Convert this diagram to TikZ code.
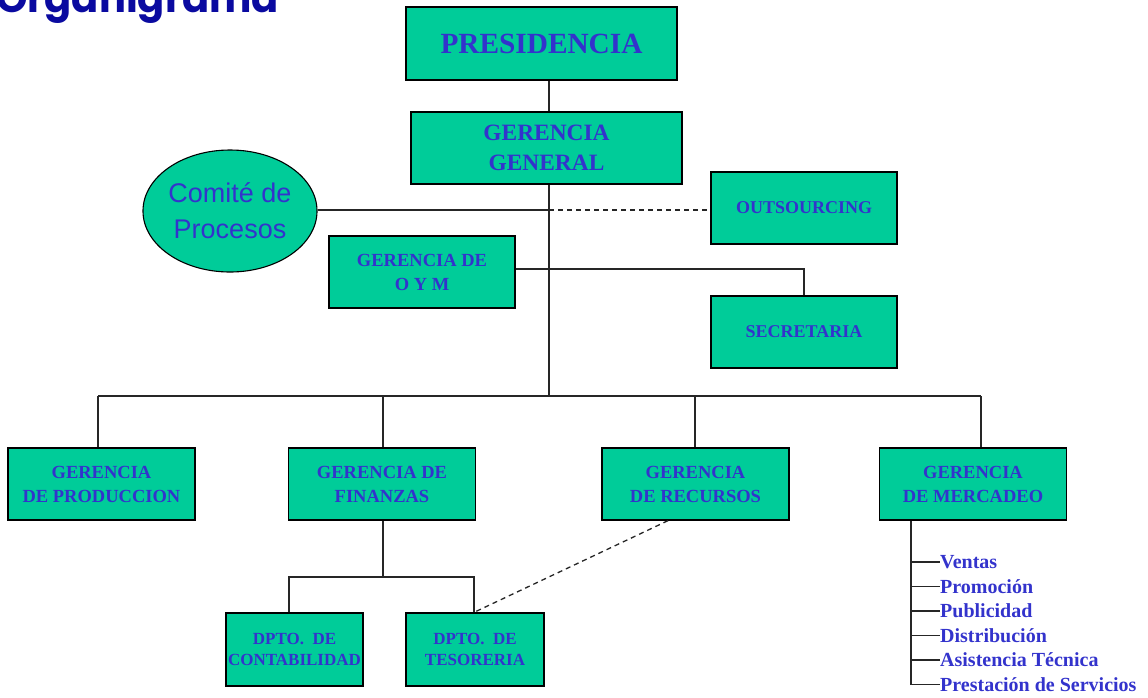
\documentclass[tikz,border=0pt]{standalone}
\usepackage{fontspec}
\setmainfont{Liberation Serif}
\newfontfamily\arialf{Liberation Sans}
\newfontfamily\titlef{Poppins}
\usetikzlibrary{shapes.geometric}

\definecolor{boxgreen}{HTML}{00CC99}
\definecolor{txtblue}{HTML}{3333CC}
\definecolor{titleblue}{HTML}{0A0AA0}

\tikzset{
  orgbox/.style={draw=black, line width=1.3pt, fill=boxgreen, inner sep=0pt,
    align=center, text=txtblue, minimum width=186pt, minimum height=72pt},
  link/.style={draw=black!85, line width=1.3pt},
  dotlink/.style={link, dash pattern=on 5pt off 4pt},
  listitem/.style={anchor=west, inner sep=0pt, text height=13.5pt, text depth=0pt,
    text=txtblue, font=\bfseries\fontsize{20}{24}\selectfont},
}

\begin{document}
\begin{tikzpicture}[x=1pt, y=-1pt]
\useasboundingbox (0,0) rectangle (1148,697);

% heading, partly above the page edge
\begin{scope}
  \clip (0,0) rectangle (1148,697);
  \node[anchor=base west, inner sep=0pt, text=titleblue,
        font=\titlef\bfseries\fontsize{40}{40}\selectfont] (title) at (-4,12.5) {Organigrama};
\end{scope}

% top of the hierarchy
\node[orgbox, minimum width=271pt, minimum height=73pt,
      font=\bfseries\fontsize{29.3}{32}\selectfont] (pres) at (541.5,43.5) {PRESIDENCIA};
\node[orgbox, minimum width=271pt,
      font=\bfseries\fontsize{23.4}{30}\selectfont] (gg) at (546.5,148) {GERENCIA\\GENERAL};

% staff units
\node[ellipse, draw=black, line width=1.1pt, fill=boxgreen, inner sep=0pt,
      minimum width=154pt, minimum height=122pt, align=center, text=txtblue,
      font=\arialf\fontsize{27}{36}\selectfont] (comite) at (230,211) {Comit\'e de\\Procesos};
\node[orgbox, font=\bfseries\fontsize{18}{24}\selectfont] (outs) at (804,208) {OUTSOURCING};
\node[orgbox, font=\bfseries\fontsize{18.5}{24}\selectfont] (oym) at (422,272) {GERENCIA DE\\O Y M};
\node[orgbox, font=\bfseries\fontsize{18}{24}\selectfont] (secr) at (804,332) {SECRETARIA};

% line managers
\tikzset{mgr/.style={orgbox, minimum width=187pt, font=\bfseries\fontsize{18.5}{24}\selectfont}}
\node[mgr] (prod) at (101.5,484) {GERENCIA\\DE PRODUCCION};
\node[mgr] (fin)  at (382,484)   {GERENCIA DE\\FINANZAS};
\node[mgr] (rec)  at (695.5,484) {GERENCIA\\DE RECURSOS};
\node[mgr] (merc) at (973,484)   {GERENCIA\\DE MERCADEO};

% departments
\tikzset{dept/.style={orgbox, minimum width=137pt, minimum height=73pt,
    font=\bfseries\fontsize{17}{21}\selectfont}}
\node[dept] (cont) at (294.5,649.5) {DPTO.~ DE\\CONTABILIDAD};
\node[dept, minimum width=138pt] (teso) at (475,649.5) {DPTO.~ DE\\TESORERIA};

% marketing functions
\node[listitem] (l1) at (940,562)   {Ventas};
\node[listitem] (l2) at (940,586.5) {Promoci\'on};
\node[listitem] (l3) at (940,611)   {Publicidad};
\node[listitem] (l4) at (940,635.5) {Distribuci\'on};
\node[listitem] (l5) at (940,660)   {Asistencia T\'ecnica};
\node[listitem] (l6) at (940,684.5) {Prestaci\'on de Servicios};

% routing points
\coordinate (spine) at (549,0);
\coordinate (barL) at (98,396);
\coordinate (barR) at (981,396);
\coordinate (dFin) at (383,396);
\coordinate (dRec) at (695,396);
\coordinate (cl) at (549,210);
\coordinate (oyl) at (804,269);
\coordinate (fbar) at (383,577);
\coordinate (fL) at (289,577);
\coordinate (fR) at (474,577);
\coordinate (rd) at (668,0);
\coordinate (mx) at (911,0);

% connectors
\draw[link] (pres.south -| spine) -- (gg.north -| spine);
\draw[link] (gg.south -| spine) -- (spine |- barL);
\draw[link] (barL) -- (barR);
\draw[link] (barL) -- (barL |- prod.north);
\draw[link] (dFin) -- (dFin |- fin.north);
\draw[link] (dRec) -- (dRec |- rec.north);
\draw[link] (barR) -- (barR |- merc.north);

\draw[link] (comite.east |- cl) -- (cl);
\draw[dotlink] (cl) -- (cl -| outs.west);
\draw[link] (oym.east |- oyl) -- (oyl) -- (oyl |- secr.north);

\draw[link] (fin.south -| fbar) -- (fbar);
\draw[link] (fL |- cont.north) -- (fL) -- (fR) -- (fR |- teso.north);
\draw[dotlink] (rec.south -| rd) -- (teso.north -| fR);

\draw[link] (merc.south -| mx) -- (mx |- l6.west);
\foreach \i in {1,...,6} \draw[link] (mx |- l\i.west) -- (l\i.west);
\end{tikzpicture}
\end{document}
